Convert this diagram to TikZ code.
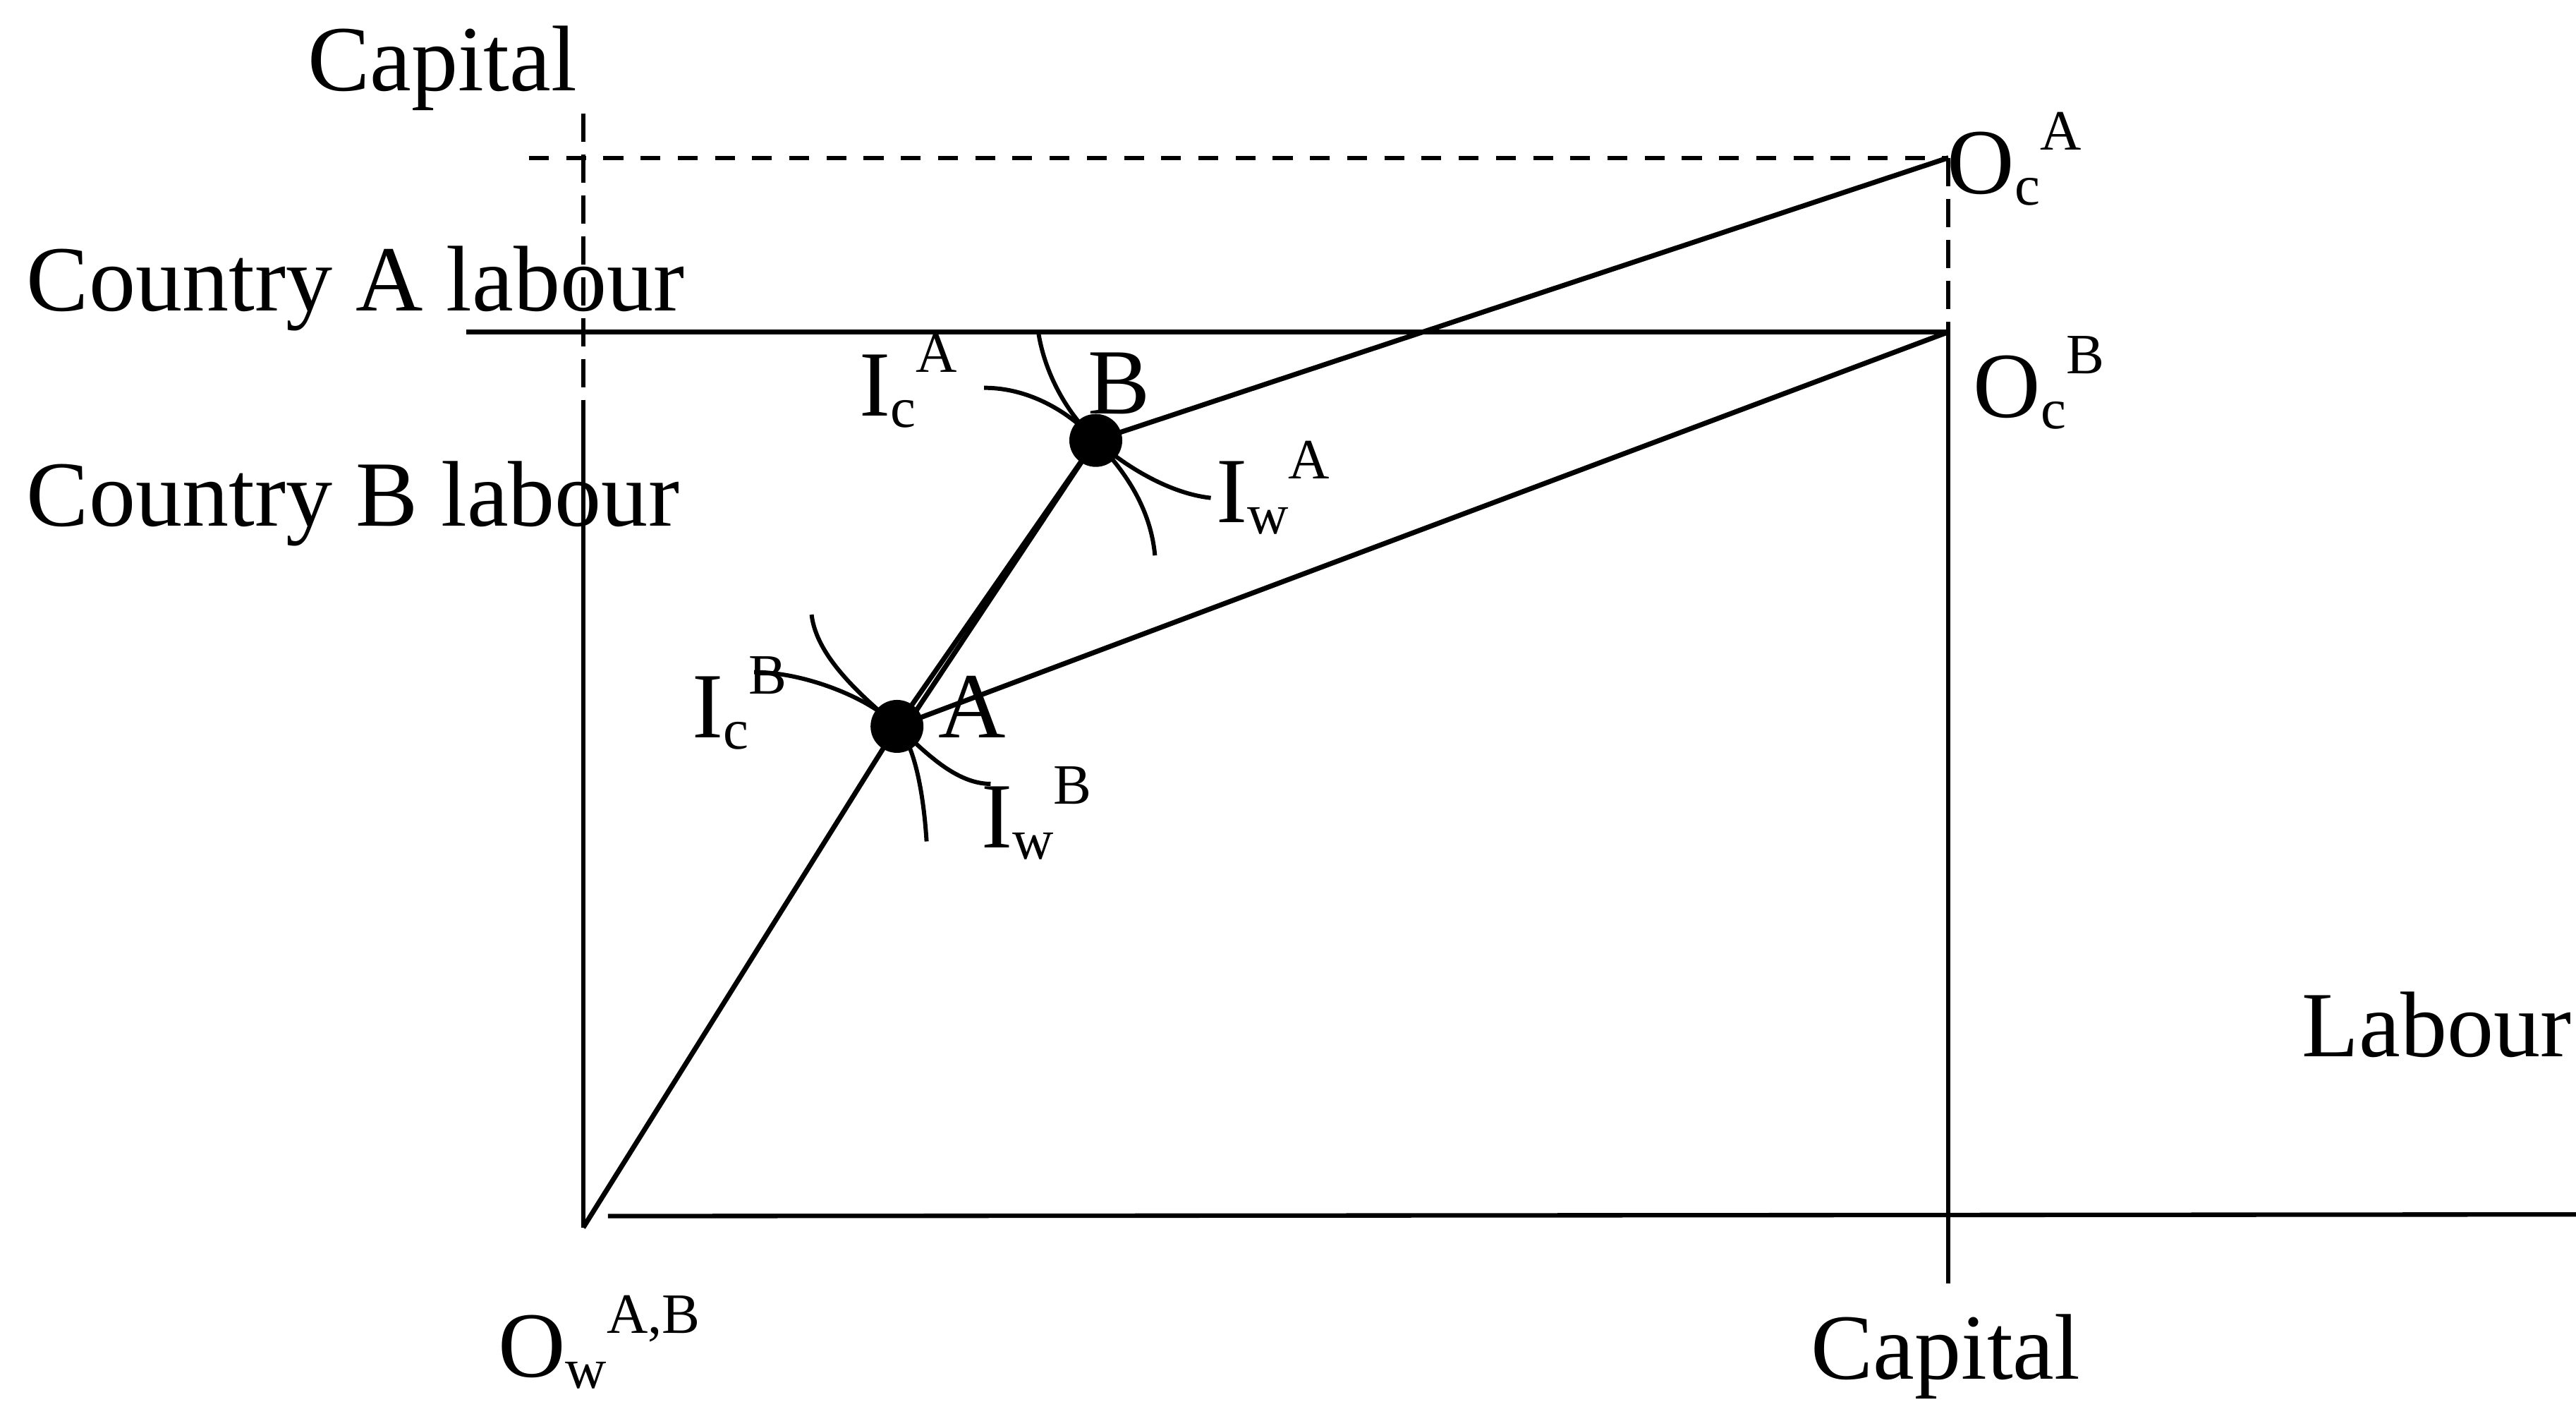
\documentclass[tikz,border=0pt]{standalone}
\usepackage{fontspec}
\setmainfont{Liberation Serif}
\usetikzlibrary{calc}

% letter with subscript and superscript set one after the other
\newcommand{\idx}[3]{#1\raisebox{-0.12em}{\fontsize{23}{23}\selectfont #2}\raisebox{0.47em}{\fontsize{23}{23}\selectfont #3}}

\tikzset{
	axis/.style={line width=1.8pt},
	vguide/.style={line width=1.7pt, dash pattern=on 11.5pt off 5pt},
	hguide/.style={line width=1.7pt, dash pattern=on 8pt off 7pt},
	contract/.style={line width=2pt},
	isoq/.style={line width=1.7pt},
	dot/.style={circle, fill=black, inner sep=0pt, minimum size=7.5mm},
	lbl/.style={anchor=base west, inner sep=0pt, font=\fontsize{37.6}{45}\selectfont}
}

\begin{document}
\begin{tikzpicture}[x=0.2329mm, y=-0.2329mm]
	\useasboundingbox (0,0) rectangle (1568,853);
	% box origins and free ends
	\coordinate (Ow) at (355,747);
	\coordinate (OcA) at (1186,96);
	\coordinate (OcB) at (1186,202);
	\coordinate (ltop) at (355,69);
	\coordinate (lmid) at (355,258);
	\coordinate (dstart) at (322,96);
	\coordinate (hstart) at (284,202);
	\coordinate (rbot) at (1186,781);
	\coordinate (bstart) at (370,740);
	\coordinate (bend) at (1568,739);
	% equilibrium points
	\node[dot] (A) at (546,442) {};
	\node[dot] (B) at (667,268) {};

	% axes
	\draw[vguide] (ltop) -- (lmid);
	\draw[axis] (lmid) -- (Ow);
	\draw[hguide] (dstart) -- (OcA);
	\draw[vguide] (OcA) -- (OcB);
	\draw[axis] (OcB) -- (rbot);
	\draw[axis] (hstart) -- (OcB);
	\draw[axis] (bstart) -- (bend);

	% contract lines
	\draw[contract] (Ow) -- (A.center) -- (B.center) -- (OcA);
	\draw[contract] ($(A.center)+(4,2)$) -- (B.center);
	\draw[contract] (A.center) -- (OcB);

	% isoquants at B and A
	\draw[isoq] (599,236) .. controls (628,236) and (652,252) .. (B.center) .. controls (680,282) and (700,305) .. (703,338);
	\draw[isoq] (632,202) .. controls (636,228) and (650,252) .. (B.center) .. controls (683,282) and (710,300) .. (737,303);
	\draw[isoq] (459,409) .. controls (490,409) and (530,425) .. (A.center) .. controls (556,452) and (562,480) .. (564,512);
	\draw[isoq] (494,374) .. controls (497,400) and (525,424) .. (A.center) .. controls (560,454) and (580,477) .. (603,477);

	% labels
	\node[lbl] (capy) at (187,55) {Capital};
	\node[lbl] (ctya) at (16,189) {Country A labour};
	\node[lbl] (ctyb) at (16,320) {Country B labour};
	\node[lbl] (labx) at (1401,643) {Labour};
	\node[lbl] (capx) at (1102,839) {Capital};
	\node[lbl] (owlbl) at (303,838) {\idx{O}{w}{A,B}};
	\node[lbl] (ocalbl) at (1185,118) {\idx{O}{c}{A}};
	\node[lbl] (ocblbl) at (1201,254) {\idx{O}{c}{B}};
	\node[lbl] (icalbl) at (523,253) {\idx{I}{c}{A}};
	\node[lbl] (iwalbl) at (740,318) {\idx{I}{w}{A}};
	\node[lbl] (icblbl) at (421,449) {\idx{I}{c}{B}};
	\node[lbl] (iwblbl) at (597,516) {\idx{I}{w}{B}};
	\node[lbl] (blbl) at (662,252) {B};
	\node[lbl] (albl) at (571,449) {A};
\end{tikzpicture}
\end{document}
